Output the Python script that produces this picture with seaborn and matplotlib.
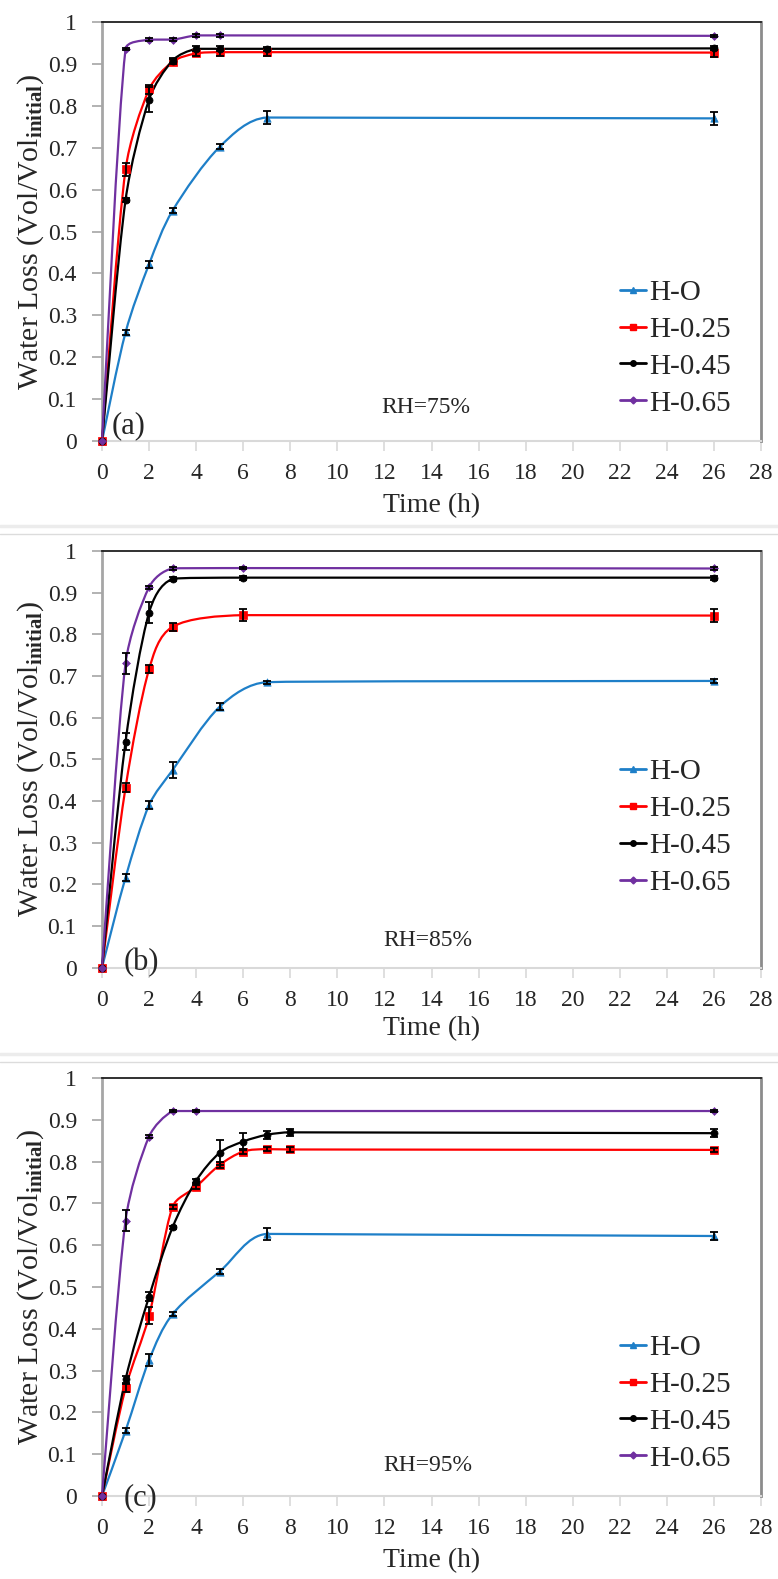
import numpy as np
import matplotlib
matplotlib.use("Agg")
import matplotlib.pyplot as plt
import seaborn as sns
from matplotlib.path import Path
from matplotlib.patches import PathPatch
from matplotlib.lines import Line2D
from matplotlib.ticker import FuncFormatter

# ---------------- data ----------------
series_names = ["H-O", "H-0.25", "H-0.45", "H-0.65"]
rh_labels = ["RH=75%", "RH=85%", "RH=95%"]
panel_tags = ["(a)", "(b)", "(c)"]

# Panel (a) RH=75%
a_t_HO = [0, 1, 2, 3, 5, 7, 26]
a_v_HO = [0, 0.259, 0.422, 0.550, 0.702, 0.772, 0.770]
a_e_HO = [0, 0.005, 0.008, 0.005, 0.006, 0.015, 0.015]
a_t_H25 = [0, 1, 2, 3, 4, 5, 7, 26]
a_v_H25 = [0, 0.648, 0.839, 0.905, 0.925, 0.928, 0.928, 0.927]
a_e_H25 = [0, 0.015, 0.010, 0.006, 0.005, 0.008, 0.010, 0.010]
a_t_H45 = [0, 1, 2, 3, 4, 5, 7, 26]
a_v_H45 = [0, 0.575, 0.815, 0.908, 0.936, 0.936, 0.936, 0.937]
a_e_H45 = [0, 0.005, 0.030, 0.005, 0.006, 0.006, 0.005, 0.005]
a_t_H65 = [0, 1, 2, 3, 4, 5, 26]
a_v_H65 = [0, 0.935, 0.958, 0.958, 0.968, 0.968, 0.967]
a_e_H65 = [0, 0.003, 0.003, 0.003, 0.003, 0.003, 0.003]

# Panel (b) RH=85%
b_t_HO = [0, 1, 2, 3, 5, 7, 26]
b_v_HO = [0, 0.216, 0.390, 0.474, 0.626, 0.685, 0.688]
b_e_HO = [0, 0.008, 0.010, 0.020, 0.008, 0.004, 0.004]
b_t_H25 = [0, 1, 2, 3, 6, 26]
b_v_H25 = [0, 0.432, 0.716, 0.818, 0.846, 0.845]
b_e_H25 = [0, 0.010, 0.010, 0.010, 0.015, 0.015]
b_t_H45 = [0, 1, 2, 3, 6, 26]
b_v_H45 = [0, 0.542, 0.852, 0.933, 0.936, 0.936]
b_e_H45 = [0, 0.020, 0.025, 0.004, 0.005, 0.005]
b_t_H65 = [0, 1, 2, 3, 6, 26]
b_v_H65 = [0, 0.730, 0.913, 0.958, 0.959, 0.958]
b_e_H65 = [0, 0.025, 0.004, 0.003, 0.003, 0.003]

# Panel (c) RH=95%
c_t_HO = [0, 1, 2, 3, 5, 7, 26]
c_v_HO = [0, 0.156, 0.325, 0.435, 0.537, 0.627, 0.622]
c_e_HO = [0, 0.006, 0.015, 0.005, 0.005, 0.015, 0.010]
c_t_H25 = [0, 1, 2, 3, 4, 5, 6, 7, 8, 26]
c_v_H25 = [0, 0.258, 0.431, 0.692, 0.740, 0.792, 0.824, 0.830, 0.829, 0.828]
c_e_H25 = [0, 0.010, 0.020, 0.005, 0.005, 0.008, 0.006, 0.005, 0.005, 0.005]
c_t_H45 = [0, 1, 2, 3, 4, 5, 6, 7, 8, 26]
c_v_H45 = [0, 0.279, 0.477, 0.643, 0.754, 0.821, 0.848, 0.864, 0.870, 0.868]
c_e_H45 = [0, 0.008, 0.010, 0.004, 0.005, 0.030, 0.020, 0.010, 0.008, 0.010]
c_t_H65 = [0, 1, 2, 3, 4, 26]
c_v_H65 = [0, 0.659, 0.860, 0.921, 0.921, 0.921]
c_e_H65 = [0, 0.025, 0.003, 0.003, 0.003, 0.003]

x_ticks = list(range(0, 29, 2))
y_ticks = [0, 0.1, 0.2, 0.3, 0.4, 0.5, 0.6, 0.7, 0.8, 0.9, 1.0]

# ---------------- styles ----------------
colors = ["#1E7FC8", "#FF0000", "#000000", "#7030A0"]
markers = ["^", "s", "o", "D"]
msizes = [28, 30, 26, 16]

panels = [
    [(a_t_HO, a_v_HO, a_e_HO), (a_t_H25, a_v_H25, a_e_H25),
     (a_t_H45, a_v_H45, a_e_H45), (a_t_H65, a_v_H65, a_e_H65)],
    [(b_t_HO, b_v_HO, b_e_HO), (b_t_H25, b_v_H25, b_e_H25),
     (b_t_H45, b_v_H45, b_e_H45), (b_t_H65, b_v_H65, b_e_H65)],
    [(c_t_HO, c_v_HO, c_e_HO), (c_t_H25, c_v_H25, c_e_H25),
     (c_t_H45, c_v_H45, c_e_H45), (c_t_H65, c_v_H65, c_e_H65)],
]

sns.set_theme(style="white")
plt.rcParams["font.family"] = ["Liberation Serif", "DejaVu Serif"]
plt.rcParams["mathtext.fontset"] = "custom"
plt.rcParams["mathtext.rm"] = "Liberation Serif"
plt.rcParams["mathtext.bf"] = "Liberation Serif:bold"
plt.rcParams["mathtext.it"] = "Liberation Serif:italic"

W, H = 778, 1579
fig = plt.figure(figsize=(W / 100, H / 100), dpi=100)
fig.patch.set_facecolor("white")

# axes boxes in pixels: (left, top, right, bottom)
boxes = [(102, 22, 761, 441), (102, 551, 761, 967.5), (102, 1078, 761, 1496)]
legend_y = [0.222, 0.336, 0.2225]
rh_pos = [(0.4917, 0.079), (0.495, 0.064), (0.494, 0.072)]
tag_pos = [(0.040, 0.036), (0.059, 0.011), (0.058, -0.004)]
xlabel_off = [-0.124, -0.116, -0.124]


def smooth_path(ax, x, y):
    """Excel-like smoothed curve through the points (cubic Bezier in display space)."""
    pts = ax.transData.transform(np.column_stack([x, y]))
    n = len(pts)
    tang = []
    for i in range(n):
        pp = pts[i - 1] if i > 0 else pts[i]
        pn = pts[i + 1] if i + 1 < n else pts[i]
        tang.append((pn - pp) / 6.0)

    def scaled(T, pa, pb):
        # limit handle length and avoid vertical overshoot in this segment
        seg = np.linalg.norm(pb - pa)
        L = np.linalg.norm(T)
        s = 1.0
        if L > seg / 3.0 and L > 0:
            s = seg / 3.0 / L
        Ty = T[1] * s
        dy = pb[1] - pa[1]
        if Ty * dy < 0:
            s = 0.0
        elif abs(Ty) > abs(dy) and Ty != 0:
            s = s * abs(dy) / abs(Ty)
        return T * s

    verts = [pts[0]]
    codes = [Path.MOVETO]
    for i in range(n - 1):
        p1, p2 = pts[i], pts[i + 1]
        t1 = scaled(tang[i], p1, p2)
        t2 = scaled(tang[i + 1], p1, p2)
        verts += [p1 + t1, p2 - t2, p2]
        codes += [Path.CURVE4] * 3
    verts = ax.transData.inverted().transform(np.array(verts))
    return Path(verts, codes)


for k, (box, data) in enumerate(zip(boxes, panels)):
    l, t, r, b = box
    ax = fig.add_axes([l / W, 1 - b / H, (r - l) / W, (b - t) / H])
    ax.set_xlim(0, 28)
    ax.set_ylim(0, 1)
    ax.set_facecolor("white")

    for j, (tt, vv, ee) in enumerate(data):
        tt = np.asarray(tt, float)
        vv = np.asarray(vv, float)
        ee = np.asarray(ee, float)
        path = smooth_path(ax, tt, vv)
        ax.add_patch(PathPatch(path, facecolor="none", edgecolor=colors[j],
                               lw=1.6, zorder=3, clip_on=False))
        m = ee > 0
        ax.errorbar(tt[m], vv[m], yerr=ee[m], fmt="none", ecolor="black",
                    elinewidth=1.3, capsize=3, capthick=1.3, zorder=5)
        sns.scatterplot(x=tt, y=vv, marker=markers[j], color=colors[j],
                        s=msizes[j], edgecolor=colors[j], linewidth=0.5,
                        ax=ax, zorder=4, clip_on=False, legend=False)

    ax.set_xticks(x_ticks)
    ax.set_yticks(y_ticks)
    ax.yaxis.set_major_formatter(FuncFormatter(lambda v, p: f"{v:g}"))
    ax.tick_params(axis="x", direction="out", length=7, width=1.2,
                   color="#d9d9d9", labelsize=17, pad=9, bottom=True)
    ax.tick_params(axis="y", direction="out", length=7, width=1.2,
                   color="#a6a6a6", labelsize=17, pad=11, left=True)
    ax.spines["top"].set_color("#202020")
    ax.spines["top"].set_linewidth(1.3)
    ax.spines["right"].set_color("#8c8c8c")
    ax.spines["right"].set_linewidth(2)
    ax.spines["left"].set_color("#a6a6a6")
    ax.spines["left"].set_linewidth(2)
    ax.spines["bottom"].set_color("#d9d9d9")
    ax.spines["bottom"].set_linewidth(1.5)

    ax.set_xlabel("Time (h)", fontsize=20)
    ax.xaxis.set_label_coords(0.5, xlabel_off[k])
    ax.set_ylabel(r"Water Loss (Vol/Vol$_{\mathbf{initial}}$)", fontsize=21.5)
    ax.yaxis.set_label_coords(-0.085, 0.5)

    ax.text(*rh_pos[k], rh_labels[k], transform=ax.transAxes, fontsize=17,
            ha="center", va="center")
    ax.text(*tag_pos[k], panel_tags[k], transform=ax.transAxes, fontsize=22,
            ha="center", va="center", zorder=6)

    handles = [Line2D([0], [0], color=colors[j], marker=markers[j],
                      markersize=4 if j < 3 else 3.5, lw=2)
               for j in range(4)]
    ax.legend(handles, series_names, loc="center left",
              bbox_to_anchor=(0.786, legend_y[k]), frameon=False,
              fontsize=21, handlelength=0.9, handletextpad=0.1,
              labelspacing=0.36, borderpad=0, borderaxespad=0, numpoints=1)

# separators between panels
for yy, c, lw in [(526, "#ececec", 2.5), (534, "#dcdcdc", 1.0),
                  (1054, "#ececec", 2.5), (1062, "#dcdcdc", 1.0)]:
    fig.add_artist(Line2D([0, 1], [1 - yy / H, 1 - yy / H],
                          transform=fig.transFigure, color=c, lw=lw))

fig.savefig("out.png", dpi=100, facecolor="white")
